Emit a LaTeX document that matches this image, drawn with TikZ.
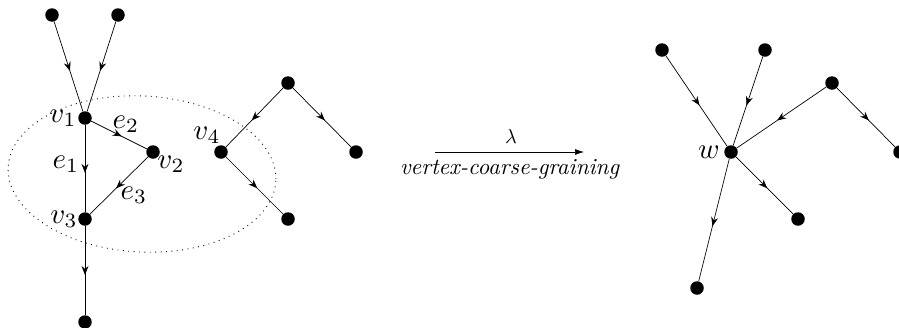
\documentclass[tikz,border=0pt]{standalone}
\usetikzlibrary{arrows.meta,decorations.markings}
\begin{document}
\begin{tikzpicture}[x=1pt,y=-1pt,
  dot/.style={circle,fill=black,inner sep=0pt,minimum size=13.5pt},
  lab/.style={inner sep=0pt,scale=2.9},
  midarrow/.style={line width=0.7pt,postaction={decorate},decoration={markings,mark=at position 0.55 with {\arrow{Stealth[length=9pt,width=7pt,inset=3pt]}}}}]
\useasboundingbox (0,0) rectangle (899,327);
% ellipse
\draw[line width=0.9pt,dash pattern=on 0.9pt off 4.5pt,rotate around={-3:(142,174)}] (142,174) ellipse [x radius=134, y radius=78];
% left graph
\node[dot] (a1) at (52,15) {};
\node[dot] (a2) at (118,15) {};
\node[dot] (v1) at (85,118) {};
\node[dot] (v2) at (153,152) {};
\node[dot] (v3) at (85,219) {};
\node[dot] (b) at (85,322) {};
\node[dot] (v4) at (221,152) {};
\node[dot] (t) at (288,83) {};
\node[dot] (r) at (356,152) {};
\node[dot] (br) at (288,219) {};
\draw[midarrow] (a1) -- (v1);
\draw[midarrow] (a2) -- (v1);
\draw[midarrow] (v1) -- (v3);
\draw[midarrow] (v1) -- (v2);
\draw[midarrow] (v2) -- (v3);
\draw[midarrow] (v3) -- (b);
\draw[midarrow] (t) -- (v4);
\draw[midarrow] (t) -- (r);
\draw[midarrow] (v4) -- (br);
\node[lab] (lv1) at (63,118) {$v_1$};
\node[lab] (lv2) at (171,164) {$v_2$};
\node[lab] (lv3) at (64,219) {$v_3$};
\node[lab] (lv4) at (207,135) {$v_4$};
\node[lab] (le1) at (66,164) {$e_1$};
\node[lab] (le2) at (126,124) {$e_2$};
\node[lab] (le3) at (134,195) {$e_3$};
% arrow
\coordinate (s) at (435,152);
\coordinate (e) at (584,152);
\draw[line width=0.7pt,-{Latex[length=9pt,width=6pt]}] (s) -- (e);
\node[inner sep=0pt,scale=2.0] (lam) at (511,137) {$\lambda$};
\node[inner sep=0pt,scale=2.3] (vcg) at (510,169) {\textit{vertex-coarse-graining}};
% right graph
\node[dot] (w) at (731,152) {};
\node[dot] (c1) at (662,50) {};
\node[dot] (c2) at (765,50) {};
\node[dot] (c3) at (832,83) {};
\node[dot] (c4) at (900,152) {};
\node[dot] (c5) at (798,219) {};
\node[dot] (c6) at (697,288) {};
\draw[midarrow] (c1) -- (w);
\draw[midarrow] (c2) -- (w);
\draw[midarrow] (c3) -- (w);
\draw[midarrow] (c3) -- (c4);
\draw[midarrow] (w) -- (c5);
\draw[midarrow] (w) -- (c6);
\node[lab] (lw) at (709,152) {$w$};
\end{tikzpicture}
\end{document}
